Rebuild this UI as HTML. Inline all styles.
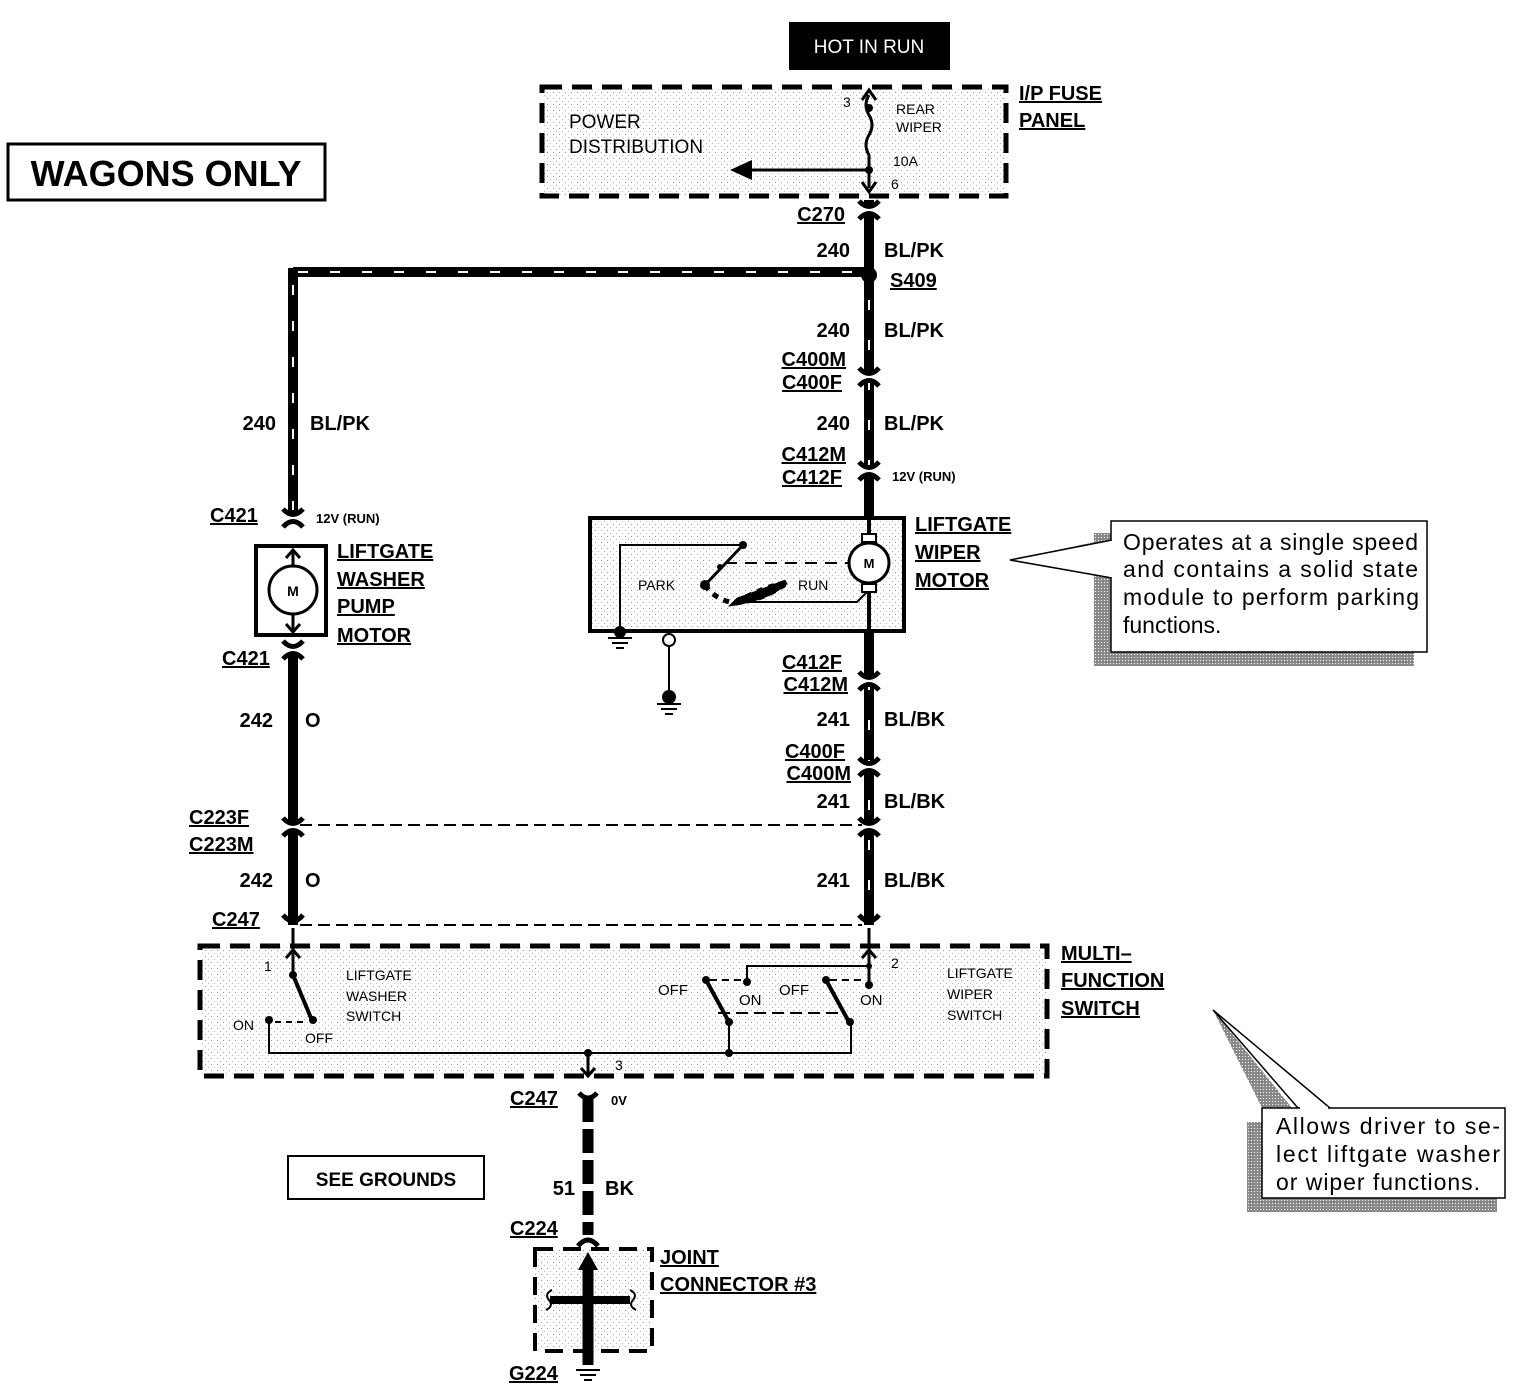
<!DOCTYPE html>
<html><head><meta charset="utf-8"><style>
html,body{margin:0;padding:0;background:#fff}
svg{display:block}
text{font-family:"Liberation Sans",Arial,sans-serif;fill:#000}
.b{font-weight:bold;font-size:20px}
.u{text-decoration:underline}
.s{font-size:14px}
.m{font-size:16px}
.c{font-size:23px}
</style></head><body>
<svg width="1518" height="1392" viewBox="0 0 1518 1392" xmlns="http://www.w3.org/2000/svg">
<defs>
<pattern id="dots" width="6" height="6" patternUnits="userSpaceOnUse"><rect width="6" height="6" fill="#fff"/><rect x="1" y="2" width="1" height="1" fill="#999"/><rect x="4" y="5" width="1" height="1" fill="#bbb"/></pattern>
<pattern id="shade" width="3" height="3" patternUnits="userSpaceOnUse"><rect width="3" height="3" fill="#888"/><rect width="1" height="1" fill="#fff"/></pattern>
<g id="conn"><path d="M-10,-9 Q0,2 10,-9" stroke="#000" stroke-width="5" fill="none"/><path d="M-10,9 Q0,-2 10,9" stroke="#000" stroke-width="5" fill="none"/></g>
</defs>

<rect x="789" y="22" width="161" height="48" fill="#000"/>
<text x="869" y="53" text-anchor="middle" fill="#fff" style="fill:#fff;font-size:19px">HOT IN RUN</text>

<rect x="8" y="144" width="317" height="56" fill="#fff" stroke="#000" stroke-width="3"/>
<text x="166" y="186" text-anchor="middle" style="font-weight:bold;font-size:36px">WAGONS ONLY</text>

<rect x="542" y="87" width="464" height="109" fill="url(#dots)" stroke="#000" stroke-width="5" stroke-dasharray="20,10"/>
<text x="569" y="128" class="m" style="font-size:19px">POWER</text>
<text x="569" y="153" class="m" style="font-size:19px">DISTRIBUTION</text>
<path d="M869,95 q-6,10 0,20 q6,10 0,20 q-6,10 0,20 L869,188" stroke="#000" stroke-width="3" fill="none"/>
<path d="M862,100 L869,90 L876,100" stroke="#000" stroke-width="3" fill="none"/>
<path d="M862,182 L869,192 L876,182" stroke="#000" stroke-width="3" fill="none"/>
<circle cx="869" cy="108" r="4"/><circle cx="869" cy="170" r="4"/>
<line x1="869" y1="170" x2="750" y2="170" stroke="#000" stroke-width="3"/>
<polygon points="730,170 752,160 752,180"/>
<text x="843" y="107" class="s">3</text>
<text x="896" y="114" class="s">REAR</text>
<text x="896" y="132" class="s">WIPER</text>
<text x="893" y="166" class="s">10A</text>
<text x="891" y="189" class="s">6</text>
<text x="1019" y="100" class="b u">I/P FUSE</text>
<text x="1019" y="127" class="b u">PANEL</text>

<line x1="869" y1="200" x2="869" y2="925" stroke="#000" stroke-width="10"/>
<line x1="293" y1="272" x2="869" y2="272" stroke="#000" stroke-width="10"/>
<line x1="293" y1="268" x2="293" y2="518" stroke="#000" stroke-width="10"/>
<line x1="298" y1="272" x2="860" y2="272" stroke="#fff" stroke-width="2" stroke-dasharray="10,22"/>
<line x1="293" y1="285" x2="293" y2="510" stroke="#fff" stroke-width="2" stroke-dasharray="10,26"/>
<line x1="869" y1="300" x2="869" y2="470" stroke="#fff" stroke-width="2" stroke-dasharray="10,30"/>
<line x1="869" y1="680" x2="869" y2="920" stroke="#fff" stroke-width="2" stroke-dasharray="10,30"/>
<line x1="293" y1="655" x2="293" y2="925" stroke="#000" stroke-width="10"/>
<circle cx="869" cy="275" r="8"/>
<rect x="860" y="205" width="18" height="8" fill="#fff"/><use href="#conn" x="869" y="210"/>
<rect x="860" y="372" width="18" height="10" fill="#fff"/><use href="#conn" x="869" y="377"/>
<rect x="860" y="466" width="18" height="10" fill="#fff"/><use href="#conn" x="869" y="471"/>
<rect x="860" y="676" width="18" height="10" fill="#fff"/><use href="#conn" x="869" y="681"/>
<rect x="860" y="762" width="18" height="10" fill="#fff"/><use href="#conn" x="869" y="767"/>
<rect x="860" y="822" width="18" height="10" fill="#fff"/><use href="#conn" x="869" y="827"/>
<rect x="284" y="822" width="18" height="10" fill="#fff"/><use href="#conn" x="293" y="827"/>
<rect x="284" y="513" width="18" height="10" fill="#fff"/><use href="#conn" x="293" y="518"/>
<rect x="284" y="645" width="18" height="10" fill="#fff"/><use href="#conn" x="293" y="650"/>
<path d="M283,915 Q293,927 303,915 M859,915 Q869,927 879,915" stroke="#000" stroke-width="5" fill="none"/>

<line x1="300" y1="825" x2="862" y2="825" stroke="#000" stroke-width="2" stroke-dasharray="12,6"/>
<line x1="300" y1="925" x2="862" y2="925" stroke="#000" stroke-width="2" stroke-dasharray="12,6"/>

<g class="b">
<text x="845" y="221" text-anchor="end" class="b u">C270</text>
<text x="850" y="257" text-anchor="end" class="b">240</text><text x="884" y="257" class="b">BL/PK</text>
<text x="890" y="287" class="b u">S409</text>
<text x="850" y="337" text-anchor="end" class="b">240</text><text x="884" y="337" class="b">BL/PK</text>
<text x="846" y="366" text-anchor="end" class="b u">C400M</text>
<text x="842" y="389" text-anchor="end" class="b u">C400F</text>
<text x="850" y="430" text-anchor="end" class="b">240</text><text x="884" y="430" class="b">BL/PK</text>
<text x="846" y="461" text-anchor="end" class="b u">C412M</text>
<text x="842" y="484" text-anchor="end" class="b u">C412F</text>
<text x="892" y="481" class="s" style="font-weight:bold;font-size:13px">12V (RUN)</text>
<text x="842" y="669" text-anchor="end" class="b u">C412F</text>
<text x="848" y="691" text-anchor="end" class="b u">C412M</text>
<text x="850" y="726" text-anchor="end" class="b">241</text><text x="884" y="726" class="b">BL/BK</text>
<text x="845" y="758" text-anchor="end" class="b u">C400F</text>
<text x="851" y="780" text-anchor="end" class="b u">C400M</text>
<text x="850" y="808" text-anchor="end" class="b">241</text><text x="884" y="808" class="b">BL/BK</text>
<text x="850" y="887" text-anchor="end" class="b">241</text><text x="884" y="887" class="b">BL/BK</text>
<text x="276" y="430" text-anchor="end" class="b">240</text><text x="310" y="430" class="b">BL/PK</text>
<text x="210" y="522" class="b u">C421</text>
<text x="316" y="523" style="font-weight:bold;font-size:13px">12V (RUN)</text>
<text x="337" y="558" class="b u">LIFTGATE</text>
<text x="337" y="586" class="b u">WASHER</text>
<text x="337" y="613" class="b u">PUMP</text>
<text x="337" y="642" class="b u">MOTOR</text>
<text x="222" y="665" class="b u">C421</text>
<text x="273" y="727" text-anchor="end" class="b">242</text><text x="305" y="727" class="b">O</text>
<text x="189" y="824" class="b u">C223F</text>
<text x="189" y="851" class="b u">C223M</text>
<text x="273" y="887" text-anchor="end" class="b">242</text><text x="305" y="887" class="b">O</text>
<text x="212" y="926" class="b u">C247</text>
<text x="915" y="531" class="b u">LIFTGATE</text>
<text x="915" y="559" class="b u">WIPER</text>
<text x="915" y="587" class="b u">MOTOR</text>
<text x="1061" y="960" class="b u">MULTI–</text>
<text x="1061" y="987" class="b u">FUNCTION</text>
<text x="1061" y="1015" class="b u">SWITCH</text>
</g>

<rect x="256" y="546" width="70" height="89" fill="#fff" stroke="#000" stroke-width="4"/>
<line x1="293" y1="550" x2="293" y2="632" stroke="#000" stroke-width="3"/>
<path d="M286,558 L293,550 L300,558 M286,624 L293,632 L300,624" stroke="#000" stroke-width="3" fill="none"/>
<circle cx="293" cy="590" r="24" fill="#fff" stroke="#000" stroke-width="3"/>
<text x="293" y="596" text-anchor="middle" style="font-weight:bold;font-size:14px">M</text>

<rect x="590" y="518" width="314" height="113" fill="url(#dots)" stroke="#000" stroke-width="4"/>
<line x1="869" y1="518" x2="869" y2="640" stroke="#000" stroke-width="4"/>
<rect x="862" y="534" width="14" height="8" fill="#fff" stroke="#000" stroke-width="2"/>
<rect x="862" y="584" width="14" height="8" fill="#fff" stroke="#000" stroke-width="2"/>
<circle cx="869" cy="563" r="20" fill="#fff" stroke="#000" stroke-width="3"/>
<text x="869" y="568" text-anchor="middle" style="font-weight:bold;font-size:13px">M</text>
<path d="M620,625 L620,545 L743,545" stroke="#000" stroke-width="2" fill="none"/>
<circle cx="743" cy="545" r="4"/><circle cx="720" cy="567" r="3"/><circle cx="705" cy="585" r="5"/>
<line x1="743" y1="545" x2="705" y2="585" stroke="#000" stroke-width="3"/>
<line x1="725" y1="563" x2="849" y2="563" stroke="#000" stroke-width="2" stroke-dasharray="12,8"/>
<path d="M705,585 Q715,600 735,603 Q765,600 788,582 Q760,588 735,603" stroke="#000" stroke-width="5" fill="none" stroke-dasharray="6,6"/>
<path d="M735,603 Q768,598 786,582 Q760,592 738,600 Z" stroke="#000" stroke-width="5"/>
<path d="M745,602 L857,602 L867,592" stroke="#000" stroke-width="2" fill="none"/>
<text x="638" y="590" class="s">PARK</text>
<text x="798" y="590" class="s">RUN</text>
<line x1="620" y1="625" x2="620" y2="632" stroke="#000" stroke-width="2"/>
<circle cx="620" cy="632" r="6"/>
<path d="M608,638 H632 M612,643 H628 M616,648 H624" stroke="#000" stroke-width="2"/>
<circle cx="669" cy="640" r="6" fill="#fff" stroke="#000" stroke-width="2"/>
<line x1="669" y1="646" x2="669" y2="695" stroke="#000" stroke-width="2"/>
<circle cx="669" cy="697" r="7"/>
<path d="M657,704 H681 M661,709 H677 M665,714 H673" stroke="#000" stroke-width="2"/>

<polygon points="1010,560 1118,537 1118,580" fill="url(#shade)"/>
<rect x="1094" y="533" width="320" height="133" fill="url(#shade)"/>
<polygon points="1010,560 1112,540 1112,578" fill="#fff" stroke="#000" stroke-width="1.5"/>
<rect x="1111" y="521" width="316" height="131" fill="#fff" stroke="#000" stroke-width="1.5"/>
<line x1="1111" y1="541" x2="1111" y2="577" stroke="#fff" stroke-width="3"/>
<text x="1123" y="550" class="c" textLength="295" lengthAdjust="spacing">Operates at a single speed</text>
<text x="1123" y="577" class="c" textLength="295" lengthAdjust="spacing">and contains a solid state</text>
<text x="1123" y="605" class="c" textLength="296" lengthAdjust="spacing">module to perform parking</text>
<text x="1123" y="633" class="c">functions.</text>

<rect x="200" y="946" width="847" height="130" fill="url(#dots)" stroke="#000" stroke-width="5" stroke-dasharray="20,10"/>
<line x1="293" y1="928" x2="293" y2="975" stroke="#000" stroke-width="3"/>
<path d="M286,958 L293,950 L300,958" stroke="#000" stroke-width="3" fill="none"/>
<circle cx="293" cy="975" r="4"/>
<line x1="293" y1="975" x2="311" y2="1018" stroke="#000" stroke-width="4"/>
<circle cx="313" cy="1020" r="4"/><circle cx="269" cy="1020" r="4"/>
<line x1="275" y1="1022" x2="306" y2="1022" stroke="#000" stroke-width="2" stroke-dasharray="6,5"/>
<path d="M269,1020 L269,1053 L851,1053 L851,1020" stroke="#000" stroke-width="2" fill="none"/>
<text x="264" y="971" class="s">1</text>
<text x="233" y="1030" class="s">ON</text>
<text x="305" y="1043" class="s">OFF</text>
<text x="346" y="980" class="s">LIFTGATE</text>
<text x="346" y="1001" class="s">WASHER</text>
<text x="346" y="1021" class="s">SWITCH</text>
<line x1="869" y1="928" x2="869" y2="985" stroke="#000" stroke-width="3"/>
<path d="M862,958 L869,950 L876,958" stroke="#000" stroke-width="3" fill="none"/>
<path d="M747,982 L747,966 L869,966" stroke="#000" stroke-width="2" fill="none"/>
<circle cx="869" cy="966" r="3"/><circle cx="869" cy="985" r="4"/><circle cx="747" cy="982" r="4"/>
<circle cx="706" cy="980" r="4"/><circle cx="826" cy="980" r="4"/>
<line x1="710" y1="980" x2="742" y2="980" stroke="#000" stroke-width="2" stroke-dasharray="7,5"/>
<line x1="830" y1="980" x2="864" y2="980" stroke="#000" stroke-width="2" stroke-dasharray="7,5"/>
<line x1="706" y1="980" x2="729" y2="1022" stroke="#000" stroke-width="4"/>
<line x1="826" y1="980" x2="849" y2="1022" stroke="#000" stroke-width="4"/>
<circle cx="729" cy="1022" r="4"/><circle cx="850" cy="1022" r="4"/>
<line x1="718" y1="1013" x2="838" y2="1013" stroke="#000" stroke-width="2" stroke-dasharray="12,6"/>
<line x1="729" y1="1022" x2="729" y2="1053" stroke="#000" stroke-width="2"/>
<circle cx="729" cy="1053" r="4"/>
<line x1="588" y1="1053" x2="588" y2="1077" stroke="#000" stroke-width="3"/>
<circle cx="588" cy="1053" r="4"/>
<path d="M581,1068 L588,1076 L595,1068" stroke="#000" stroke-width="3" fill="none"/>
<text x="891" y="968" class="s">2</text>
<text x="615" y="1070" class="s">3</text>
<text x="658" y="995" class="s" style="font-size:15px">OFF</text>
<text x="739" y="1005" class="s" style="font-size:15px">ON</text>
<text x="779" y="995" class="s" style="font-size:15px">OFF</text>
<text x="860" y="1005" class="s" style="font-size:15px">ON</text>
<text x="947" y="978" class="s">LIFTGATE</text>
<text x="947" y="999" class="s">WIPER</text>
<text x="947" y="1020" class="s">SWITCH</text>

<path d="M579,1093 Q588,1103 597,1093" stroke="#000" stroke-width="5" fill="none"/>
<line x1="588" y1="1098" x2="588" y2="1235" stroke="#000" stroke-width="11" stroke-dasharray="24,7"/>
<path d="M578,1246 Q588,1234 598,1246" stroke="#000" stroke-width="5" fill="none"/>
<text x="510" y="1105" class="b u">C247</text>
<text x="611" y="1105" style="font-weight:bold;font-size:13px">0V</text>
<text x="575" y="1195" text-anchor="end" class="b">51</text>
<text x="605" y="1195" class="b">BK</text>
<text x="510" y="1235" class="b u">C224</text>

<rect x="288" y="1156" width="196" height="43" fill="#fff" stroke="#000" stroke-width="2"/>
<text x="386" y="1186" text-anchor="middle" style="font-weight:bold;font-size:19px">SEE GROUNDS</text>

<rect x="535" y="1249" width="117" height="102" fill="url(#dots)" stroke="#000" stroke-width="4" stroke-dasharray="18,10"/>
<line x1="588" y1="1262" x2="588" y2="1365" stroke="#000" stroke-width="11"/>
<polygon points="578,1270 588,1252 598,1270"/>
<line x1="550" y1="1300" x2="630" y2="1300" stroke="#000" stroke-width="8"/>
<path d="M552,1290 q-8,4 -3,10 q5,6 -3,10 M630,1290 q8,4 3,10 q-5,6 3,10" stroke="#000" stroke-width="2" fill="none"/>
<path d="M576,1370 H600 M580,1375 H596 M584,1380 H592" stroke="#000" stroke-width="2"/>
<text x="660" y="1264" class="b u">JOINT</text>
<text x="660" y="1291" class="b u">CONNECTOR #3</text>
<text x="509" y="1380" class="b u">G224</text>

<polygon points="1213,1010 1292,1108 1262,1108" fill="url(#shade)"/>
<rect x="1247" y="1122" width="250" height="90" fill="url(#shade)"/>
<polygon points="1213,1010 1330,1108 1298,1108" fill="#fff" stroke="#000" stroke-width="1.5"/>
<rect x="1262" y="1108" width="243" height="90" fill="#fff" stroke="#000" stroke-width="1.5"/>
<line x1="1300" y1="1108" x2="1328" y2="1108" stroke="#fff" stroke-width="3"/>
<text x="1276" y="1134" class="c" textLength="224" lengthAdjust="spacing">Allows driver to se-</text>
<text x="1276" y="1162" class="c" textLength="224" lengthAdjust="spacing">lect liftgate  washer</text>
<text x="1276" y="1190" class="c" textLength="204" lengthAdjust="spacing">or wiper functions.</text>
</svg>
</body></html>
